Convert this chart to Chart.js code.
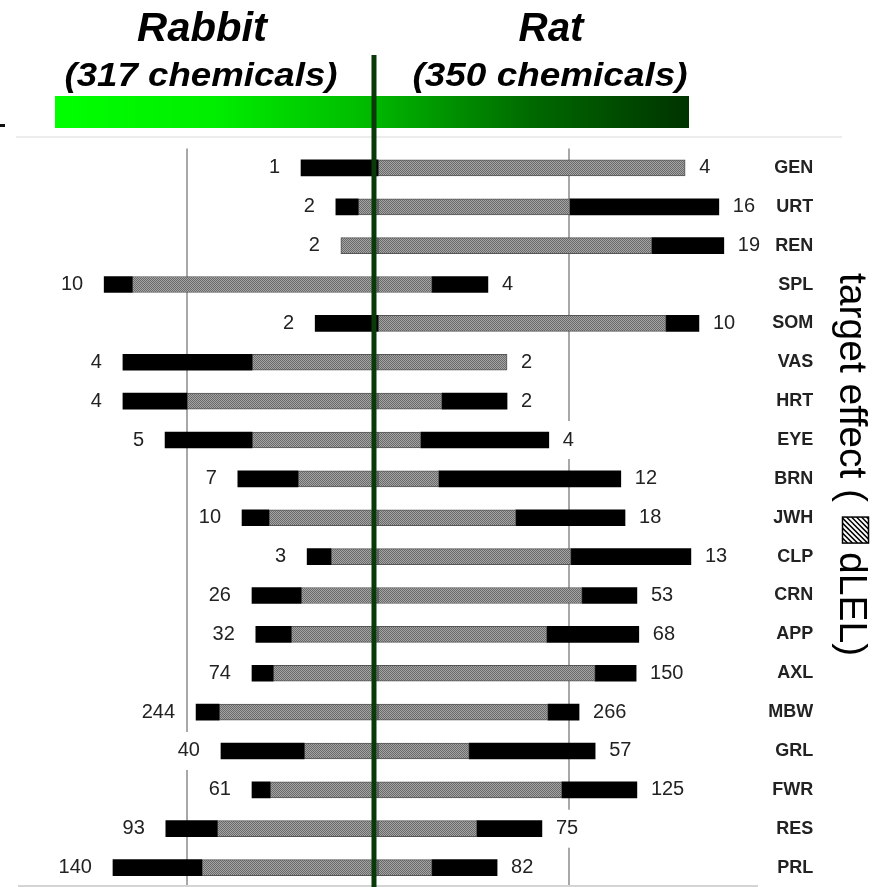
<!DOCTYPE html>
<html>
<head>
<meta charset="utf-8">
<title>Rabbit vs Rat target effects</title>
<script src="https://cdn.jsdelivr.net/npm/chart.js@4.4.1/dist/chart.umd.min.js"></script>
<style>
  html, body { margin: 0; padding: 0; background: #fff; }
  #wrap { width: 885px; height: 887px; position: relative; }
</style>
</head>
<body>
<div id="wrap"><canvas id="chart"></canvas></div>
<script>
// ===== Data =====
const targets = ["GEN","URT","REN","SPL","SOM","VAS","HRT","EYE","BRN","JWH","CLP","CRN","APP","AXL","MBW","GRL","FWR","RES","PRL"];

// rabbit: chemicals per target, full effect bar (%), dLEL part (%)
const rabbitCount = [1,2,2,10,2,4,4,5,7,10,3,26,32,74,244,40,61,93,140];
const rabbitTotal = [20.1,11.0,9.7,71.5,16.4,66.6,66.6,55.6,36.6,35.5,18.5,32.9,31.9,32.9,47.5,41.0,32.9,55.4,69.2];
const rabbitDlel  = [0,5.2,9.7,64.2,0,32.9,49.9,32.9,20.9,28.5,12.3,20.1,22.7,27.4,41.5,19.3,28.2,42.0,46.0];

// rat
const ratCount = [4,16,19,4,10,2,2,4,12,18,13,53,68,150,266,57,125,75,82];
const ratTotal = [80.2,89.0,90.3,28.7,83.8,33.7,33.7,44.6,63.4,64.5,81.7,67.6,68.1,67.4,52.5,56.7,67.6,42.8,31.1];
const ratDlel  = [80.2,50.1,71.5,14.1,75.2,33.7,16.7,11.2,15.9,36.0,50.4,53.3,44.1,56.7,44.4,23.8,48.0,25.8,14.1];

const gridValues = [-50, 50];
const headers = [
  { name: "Rabbit", sub: "(317 chemicals)" },
  { name: "Rat", sub: "(350 chemicals)" }
];
const sideTitle = ["target effect (", "dLEL)"];

Chart.defaults.font.family = '"Liberation Sans", Arial, sans-serif';

// ===== Stipple pattern for the dLEL part =====
function stipple() {
  const c = document.createElement("canvas");
  c.width = 2; c.height = 2;
  const g = c.getContext("2d");
  g.fillStyle = "#a4a4a4"; g.fillRect(0, 0, 2, 2);
  g.fillStyle = "#6a6a6a"; g.fillRect(0, 0, 1, 1); g.fillRect(1, 1, 1, 1);
  return g.createPattern(c, "repeat");
}
const grayFill = stipple();

const span = (a, b) => (a === b ? null : [a, b]);

// ===== Helpers =====
function fitText(ctx, text, cx, baseY, font, targetW) {
  ctx.save();
  ctx.font = font;
  const w = ctx.measureText(text).width;
  ctx.translate(cx, baseY);
  ctx.scale(targetW / w, 1);
  ctx.textAlign = "center";
  ctx.textBaseline = "alphabetic";
  ctx.fillStyle = "#000";
  ctx.fillText(text, 0, 0);
  ctx.restore();
}

function boxedLabel(ctx, text, x, y, align) {
  const w = ctx.measureText(text).width;
  const left = align === "right" ? x - w : x;
  ctx.fillStyle = "#fff";
  ctx.fillRect(left - 2, y - 19, w + 4, 38);
  ctx.fillStyle = "#222";
  ctx.textAlign = align;
  ctx.fillText(text, x, y);
}

// ===== Plugins =====
const valueLabels = {
  id: "valueLabels",
  afterDatasetsDraw(chart) {
    const { ctx, scales: { x, y } } = chart;
    ctx.save();
    ctx.font = '20px "Liberation Sans", Arial, sans-serif';
    ctx.textBaseline = "middle";
    targets.forEach((t, i) => {
      const py = y.getPixelForValue(i);
      boxedLabel(ctx, String(rabbitCount[i]), x.getPixelForValue(-rabbitTotal[i]) - 21, py, "right");
      boxedLabel(ctx, String(ratCount[i]), x.getPixelForValue(ratTotal[i]) + 14, py, "left");
    });
    ctx.restore();
  }
};

const decorations = {
  id: "decorations",
  afterDraw(chart) {
    const { ctx, scales: { x } } = chart;
    ctx.save();

    // faint frame lines
    ctx.fillStyle = "#ececec";
    ctx.fillRect(16, 136, 826, 2);
    ctx.fillStyle = "#d4d4d4";
    ctx.fillRect(18, 885, 740, 2);
    ctx.fillStyle = "#111";
    ctx.fillRect(0, 124, 5, 3);

    // species headers
    fitText(ctx, headers[0].name, 202, 41, 'italic bold 40px "Liberation Sans"', 130);
    fitText(ctx, headers[1].name, 551, 41, 'italic bold 40px "Liberation Sans"', 65);
    fitText(ctx, headers[0].sub, 201, 86, 'italic bold 34px "Liberation Sans"', 273);
    fitText(ctx, headers[1].sub, 550, 86, 'italic bold 34px "Liberation Sans"', 275);

    // green gradient band
    const grad = ctx.createLinearGradient(55, 0, 689, 0);
    grad.addColorStop(0, "#00ff00");
    grad.addColorStop(0.25, "#00ee00");
    grad.addColorStop(0.5, "#00b800");
    grad.addColorStop(0.75, "#006a00");
    grad.addColorStop(1, "#003300");
    ctx.fillStyle = grad;
    ctx.fillRect(55, 96, 634, 32);

    // divider between species
    const cx = x.getPixelForValue(0) - 4;
    ctx.fillStyle = "#0a3a0a";
    ctx.fillRect(cx - 2.5, 55, 5, 832);

    // rotated side title with hatched key
    ctx.font = '39px "Liberation Sans", Arial, sans-serif';
    ctx.fillStyle = "#000";
    ctx.textBaseline = "alphabetic";
    ctx.textAlign = "left";
    const w1 = ctx.measureText(sideTitle[0]).width;
    const top = 273, base = 840;
    ctx.save();
    ctx.translate(base, top);
    ctx.rotate(Math.PI / 2);
    ctx.fillText(sideTitle[0], 0, 0);
    ctx.fillText(sideTitle[1], w1 + 50, 0);
    ctx.restore();

    const sy = top + w1 + 15, sx = 842.5, s = 26;
    ctx.save();
    ctx.beginPath();
    ctx.rect(sx, sy, s, s);
    ctx.clip();
    ctx.strokeStyle = "#000";
    ctx.lineWidth = 1.5;
    for (let k = -s; k < s; k += 5) {
      ctx.beginPath();
      ctx.moveTo(sx + k, sy);
      ctx.lineTo(sx + k + s, sy + s);
      ctx.stroke();
    }
    ctx.restore();
    ctx.strokeStyle = "#000";
    ctx.lineWidth = 1.5;
    ctx.strokeRect(sx, sy, s, s);

    ctx.restore();
  }
};

// ===== Chart =====
new Chart(document.getElementById("chart"), {
  type: "bar",
  data: {
    labels: targets,
    datasets: [
      {
        label: "Rabbit",
        data: targets.map((t, i) => span(-rabbitTotal[i], -rabbitDlel[i])),
        backgroundColor: "#000",
        borderWidth: 0
      },
      {
        label: "Rabbit dLEL",
        data: targets.map((t, i) => span(-rabbitDlel[i], 0)),
        backgroundColor: grayFill,
        borderColor: "#555",
        borderWidth: 1,
        borderSkipped: false
      },
      {
        label: "Rat dLEL",
        data: targets.map((t, i) => span(0, ratDlel[i])),
        backgroundColor: grayFill,
        borderColor: "#555",
        borderWidth: 1,
        borderSkipped: false
      },
      {
        label: "Rat",
        data: targets.map((t, i) => span(ratDlel[i], ratTotal[i])),
        backgroundColor: "#000",
        borderWidth: 0
      }
    ]
  },
  options: {
    indexAxis: "y",
    responsive: true,
    maintainAspectRatio: false,
    animation: false,
    events: [],
    grouped: false,
    barThickness: 16,
    layout: { autoPadding: false, padding: { left: 0, right: 71.7, top: 148.5, bottom: 0 } },
    plugins: { legend: { display: false }, tooltip: { enabled: false } },
    scales: {
      x: {
        type: "linear",
        min: -98.7,
        max: 98,
        afterBuildTicks: s => { s.ticks = gridValues.map(v => ({ value: v })); },
        afterFit: s => { s.height = 0; s.paddingLeft = 0; s.paddingRight = 0; },
        ticks: { display: false },
        grid: { color: "#a8a8a8", lineWidth: 2, drawTicks: false },
        border: { display: false }
      },
      y: {
        type: "category",
        position: "right",
        grid: { display: false },
        border: { display: false },
        afterFit: s => { s.width = 60; s.paddingTop = 0; s.paddingBottom = 0; },
        ticks: {
          crossAlign: "far",
          padding: 13,
          color: "#222",
          font: { size: 18, weight: "bold" }
        }
      }
    }
  },
  plugins: [valueLabels, decorations]
});
</script>
</body>
</html>
